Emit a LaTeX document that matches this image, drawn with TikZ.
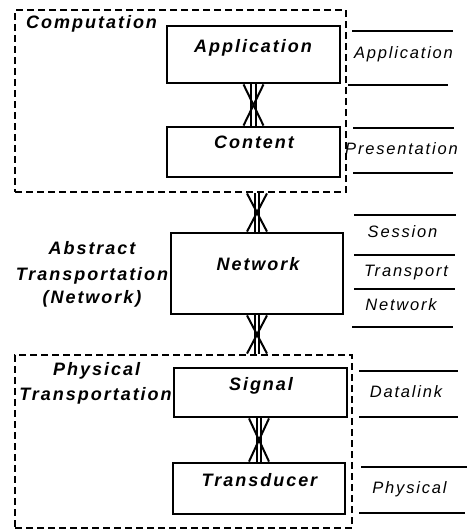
\documentclass[tikz,border=0pt]{standalone}
\usepackage{fontspec}
\setmainfont{Liberation Sans}
\newfontfamily\boldlbl{Liberation Sans Bold Italic}[LetterSpace=11]
\newfontfamily\itlbl{Liberation Sans Italic}[LetterSpace=11]
\usetikzlibrary{calc}
\newcommand\xconn[3]{%
  \coordinate (xt) at (#3 |- #1.south);
  \coordinate (xb) at (#3 |- #2.north);
  \draw[conn] ($(xt)+(-10,0)$) -- ($(xb)+(10,0)$);
  \draw[conn] ($(xt)+(10,0)$) -- ($(xb)+(-10,0)$);
  \draw[conn] ($(xt)+(-2.2,0)$) -- ($(xb)+(-2.2,0)$);
  \draw[conn] ($(xt)+(2.2,0)$) -- ($(xb)+(2.2,0)$);}
\tikzset{
  box/.style={draw, line width=2.8pt, rectangle, inner sep=0pt},
  group/.style={draw, line width=2.8pt, dash pattern=on 7pt off 4pt, rectangle, inner sep=0pt},
  conn/.style={line width=2pt},
  btext/.style={font=\boldlbl\fontsize{18}{25}\selectfont, inner sep=0pt, anchor=base},
  rtext/.style={font=\itlbl\fontsize{16.5}{18}\selectfont, inner sep=0pt, anchor=base},
  layer/.style={line width=2.8pt}
}
\begin{document}
\begin{tikzpicture}[x=1pt,y=-1pt]
\path[use as bounding box] (0,0) rectangle (468,531);
% groups
\node[group, minimum width=331pt, minimum height=182pt] (comp) at (180.5,101) {};
\node[group, minimum width=337pt, minimum height=173pt] (phys) at (183.5,441.5) {};
% boxes
\node[box, minimum width=173pt, minimum height=57pt] (app) at (253.5,54.5) {};
\node[box, minimum width=173pt, minimum height=50pt] (cont) at (253.5,152) {};
\node[box, minimum width=172pt, minimum height=81pt] (net) at (257,273.5) {};
\node[box, minimum width=173pt, minimum height=49pt] (sig) at (260.5,392.5) {};
\node[box, minimum width=172pt, minimum height=51pt] (trans) at (259,488.5) {};
% box texts
\node[btext] (tapp) at (253,52.3) {Application};
\node[btext] (tcont) at (254,148) {Content};
\node[btext] (tnet) at (258,270.7) {Network};
\node[btext] (tsig) at (261,390.7) {Signal};
\node[btext] (ttrans) at (259.5,486) {Transducer};
% group texts
\node[btext, anchor=base west] (tcomp) at (26,28.3) {Computation};
\node[btext] (tabs1) at (92,254) {Abstract};
\node[btext] (tabs2) at (92,280) {Transportation};
\node[btext] (tabs3) at (92,303) {(Network)};
\node[btext] (tphy1) at (96.7,375) {Physical};
\node[btext] (tphy2) at (95.5,400) {Transportation};
% connectors
\xconn{app}{cont}{cont}
\xconn{comp}{net}{net}
\xconn{net}{phys}{net}
\xconn{sig}{trans}{trans}
% layer lines
\draw[layer] (352,31) -- (453,31);
\draw[layer] (348,85) -- (448,85);
\draw[layer] (353,128) -- (454,128);
\draw[layer] (353,173) -- (453,173);
\draw[layer] (354,215) -- (456,215);
\draw[layer] (354,255) -- (455,255);
\draw[layer] (354,289) -- (455,289);
\draw[layer] (352,327) -- (453,327);
\draw[layer] (359,371) -- (458,371);
\draw[layer] (359,417) -- (458,417);
\draw[layer] (361,467) -- (467,467);
\draw[layer] (359,513) -- (465,513);
% layer names
\node[rtext] (lapp) at (403.5,58.3) {Application};
\node[rtext] (lpres) at (401.5,154) {Presentation};
\node[rtext] (lses) at (402.5,237.7) {Session};
\node[rtext] (ltra) at (406,276) {Transport};
\node[rtext] (lnet) at (401,310.7) {Network};
\node[rtext] (ldat) at (406,397.7) {Datalink};
\node[rtext] (lphy) at (409.5,493.3) {Physical};
\end{tikzpicture}
\end{document}
